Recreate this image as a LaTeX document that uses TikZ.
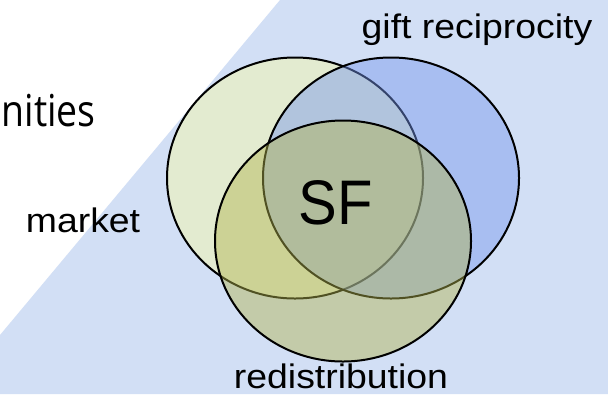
\documentclass[tikz,border=0pt]{standalone}
\usepackage{fontspec}
\setmainfont{Liberation Sans}
\newfontfamily\lblfont{Liberation Sans}[FakeStretch=1.1]
\newfontfamily\sflfont{Liberation Sans}[FakeStretch=0.92]
\newfontfamily\bgtfont{Open Sans}[FakeStretch=0.85]
\usetikzlibrary{shapes.geometric}
\definecolor{bgblue}{RGB}{210,223,245}
\definecolor{mktfill}{RGB}{244,247,173}
\definecolor{giftfill}{RGB}{117,150,238}
\definecolor{redfill}{RGB}{178,180,78}
\begin{document}
\begin{tikzpicture}[x=1bp,y=-1bp,
  venn/.style={ellipse, draw=black, line width=2bp, minimum width=256bp,
    minimum height=241bp, inner sep=0pt, fill opacity=0.45},
  lbl/.style={inner sep=0pt, anchor=base, font=\lblfont\fontsize{34bp}{40bp}\selectfont},
  sflbl/.style={inner sep=0pt, anchor=base, font=\sflfont\fontsize{63bp}{70bp}\selectfont},
  bgtext/.style={inner sep=0pt, anchor=base east, font=\bgtfont\fontsize{44bp}{50bp}\selectfont}]
\useasboundingbox (0,0) rectangle (608,394);
\fill[white] (0,0) rectangle (608,394);
\fill[bgblue] (280,0) -- (608,0) -- (608,394) -- (0,394) -- (0,335) -- cycle;
\node[bgtext] (comm) at (96,126) {nities};
\node[venn, fill=mktfill, fill opacity=0.5] (mkt) at (295,178) {};
\node[venn, fill=giftfill] (gft) at (391,178) {};
\node[venn, fill=redfill] (red) at (343,241) {};
\node[sflbl] (sf) at (336,224) {SF};
\node[lbl] (giftlbl) at (477,38) {gift reciprocity};
\node[lbl] (mktlbl) at (83,232) {market};
\node[lbl] (redlbl) at (341,388) {redistribution};
\end{tikzpicture}
\end{document}
